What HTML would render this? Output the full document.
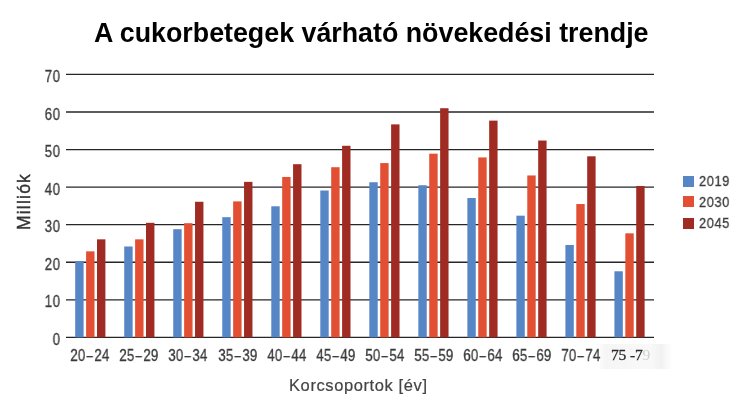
<!DOCTYPE html>
<html><head><meta charset="utf-8">
<style>
html,body{margin:0;padding:0;background:#fff;}
body{width:743px;height:406px;position:relative;overflow:hidden;font-family:"Liberation Sans",sans-serif;}
.title,.yt,.xt,.lt,.xl,.yl{will-change:transform;}
.yt,.xt,.lt{-webkit-text-stroke:0.3px #3a3a3a;}
.xl{-webkit-text-stroke:0.2px #444;}
.yl{-webkit-text-stroke:0.35px #333;}
.title{position:absolute;left:93.8px;top:16.6px;font-weight:bold;font-size:26.8px;color:#000;white-space:nowrap;line-height:32px;}
svg{position:absolute;left:0;top:0;}
.yt{position:absolute;left:29.5px;width:30.5px;text-align:right;font-size:16.2px;line-height:16px;color:#3a3a3a;letter-spacing:0.6px;transform:scaleX(0.82);transform-origin:100% 0;}
.xt{position:absolute;top:347px;width:60px;text-align:center;font-size:16.2px;line-height:16px;color:#3a3a3a;white-space:nowrap;letter-spacing:0.45px;transform:scaleX(0.82);}
.wm{position:absolute;left:600px;top:344px;width:72px;height:25px;background:linear-gradient(90deg,rgba(240,240,240,0.3),rgba(243,243,243,0.8) 8%,rgba(246,246,246,0.7) 70%,rgba(240,240,240,0.9) 85%,rgba(255,255,255,0));}
.x79{position:absolute;left:610.5px;top:345.5px;font-family:"Liberation Serif",serif;font-size:15.6px;line-height:18px;color:#2a2a2a;white-space:nowrap;will-change:transform;-webkit-text-stroke:0.3px #2a2a2a;letter-spacing:-0.2px;}
.dsh{display:inline-block;transform:scaleX(0.85);margin:0 0.3px 0 0.6px;}
.lsq{position:absolute;left:683px;width:11px;height:11px;}
.lt{position:absolute;left:698.6px;font-size:14.8px;line-height:16px;color:#3a3a3a;letter-spacing:0.8px;transform:scaleX(0.86);transform-origin:0 0;}
.xl{position:absolute;left:289px;top:375.5px;font-size:16.5px;line-height:18px;color:#444;white-space:nowrap;letter-spacing:0.6px;}
.yl{position:absolute;left:0px;top:0px;font-size:17.5px;line-height:18px;color:#333;white-space:nowrap;transform-origin:0 0;}
</style></head><body>
<div class="title">A cukorbetegek várható növekedési trendje</div>
<svg width="743" height="406" viewBox="0 0 743 406">
<line x1="66" x2="654" y1="337.40" y2="337.40" stroke="#262626" stroke-width="1.3"/>
<line x1="66" x2="654" y1="299.83" y2="299.83" stroke="#262626" stroke-width="1.3"/>
<line x1="66" x2="654" y1="262.26" y2="262.26" stroke="#262626" stroke-width="1.3"/>
<line x1="66" x2="654" y1="224.69" y2="224.69" stroke="#262626" stroke-width="1.3"/>
<line x1="66" x2="654" y1="187.12" y2="187.12" stroke="#262626" stroke-width="1.3"/>
<line x1="66" x2="654" y1="149.55" y2="149.55" stroke="#262626" stroke-width="1.3"/>
<line x1="66" x2="654" y1="111.98" y2="111.98" stroke="#262626" stroke-width="1.3"/>
<line x1="66" x2="654" y1="74.41" y2="74.41" stroke="#262626" stroke-width="1.3"/>
<rect x="75.20" y="261.13" width="8.4" height="76.27" fill="#5786c6"/>
<rect x="86.10" y="251.36" width="8.4" height="86.04" fill="#e24f32"/>
<rect x="97.00" y="239.34" width="8.4" height="98.06" fill="#a02b22"/>
<rect x="124.22" y="246.48" width="8.4" height="90.92" fill="#5786c6"/>
<rect x="135.12" y="239.34" width="8.4" height="98.06" fill="#e24f32"/>
<rect x="146.02" y="222.81" width="8.4" height="114.59" fill="#a02b22"/>
<rect x="173.24" y="229.20" width="8.4" height="108.20" fill="#5786c6"/>
<rect x="184.14" y="223.19" width="8.4" height="114.21" fill="#e24f32"/>
<rect x="195.04" y="201.77" width="8.4" height="135.63" fill="#a02b22"/>
<rect x="222.26" y="217.18" width="8.4" height="120.22" fill="#5786c6"/>
<rect x="233.16" y="201.40" width="8.4" height="136.00" fill="#e24f32"/>
<rect x="244.06" y="181.86" width="8.4" height="155.54" fill="#a02b22"/>
<rect x="271.28" y="206.28" width="8.4" height="131.12" fill="#5786c6"/>
<rect x="282.18" y="176.98" width="8.4" height="160.42" fill="#e24f32"/>
<rect x="293.08" y="164.20" width="8.4" height="173.20" fill="#a02b22"/>
<rect x="320.30" y="190.50" width="8.4" height="146.90" fill="#5786c6"/>
<rect x="331.20" y="167.21" width="8.4" height="170.19" fill="#e24f32"/>
<rect x="342.10" y="145.79" width="8.4" height="191.61" fill="#a02b22"/>
<rect x="369.32" y="182.24" width="8.4" height="155.16" fill="#5786c6"/>
<rect x="380.22" y="163.08" width="8.4" height="174.32" fill="#e24f32"/>
<rect x="391.12" y="124.38" width="8.4" height="213.02" fill="#a02b22"/>
<rect x="418.34" y="185.24" width="8.4" height="152.16" fill="#5786c6"/>
<rect x="429.24" y="153.68" width="8.4" height="183.72" fill="#e24f32"/>
<rect x="440.14" y="108.22" width="8.4" height="229.18" fill="#a02b22"/>
<rect x="467.36" y="198.02" width="8.4" height="139.38" fill="#5786c6"/>
<rect x="478.26" y="157.44" width="8.4" height="179.96" fill="#e24f32"/>
<rect x="489.16" y="120.62" width="8.4" height="216.78" fill="#a02b22"/>
<rect x="516.38" y="215.67" width="8.4" height="121.73" fill="#5786c6"/>
<rect x="527.28" y="175.47" width="8.4" height="161.93" fill="#e24f32"/>
<rect x="538.18" y="140.53" width="8.4" height="196.87" fill="#a02b22"/>
<rect x="565.40" y="244.98" width="8.4" height="92.42" fill="#5786c6"/>
<rect x="576.30" y="204.03" width="8.4" height="133.37" fill="#e24f32"/>
<rect x="587.20" y="156.31" width="8.4" height="181.09" fill="#a02b22"/>
<rect x="614.42" y="271.28" width="8.4" height="66.12" fill="#5786c6"/>
<rect x="625.32" y="233.33" width="8.4" height="104.07" fill="#e24f32"/>
<rect x="636.22" y="185.99" width="8.4" height="151.41" fill="#a02b22"/>
</svg>
<div class="wm"></div>
<div class="yt" style="top:330.9px">0</div>
<div class="yt" style="top:293.3px">10</div>
<div class="yt" style="top:255.8px">20</div>
<div class="yt" style="top:218.2px">30</div>
<div class="yt" style="top:180.6px">40</div>
<div class="yt" style="top:143.0px">50</div>
<div class="yt" style="top:105.5px">60</div>
<div class="yt" style="top:67.9px">70</div>
<div class="xt" style="left:60.25px">20<span class="dsh">–</span>24</div>
<div class="xt" style="left:109.36px">25<span class="dsh">–</span>29</div>
<div class="xt" style="left:158.47px">30<span class="dsh">–</span>34</div>
<div class="xt" style="left:207.58px">35<span class="dsh">–</span>39</div>
<div class="xt" style="left:256.69px">40<span class="dsh">–</span>44</div>
<div class="xt" style="left:305.80px">45<span class="dsh">–</span>49</div>
<div class="xt" style="left:354.91px">50<span class="dsh">–</span>54</div>
<div class="xt" style="left:404.02px">55<span class="dsh">–</span>59</div>
<div class="xt" style="left:453.13px">60<span class="dsh">–</span>64</div>
<div class="xt" style="left:502.24px">65<span class="dsh">–</span>69</div>
<div class="xt" style="left:551.35px">70<span class="dsh">–</span>74</div>
<div class="x79">75 -7<span style="color:#d0d0d0;-webkit-text-stroke:0">9</span></div>
<div class="lsq" style="top:176px;background:#5786c6"></div><div class="lt" style="top:173.2px">2019</div>
<div class="lsq" style="top:196.3px;background:#e24f32"></div><div class="lt" style="top:193.5px">2030</div>
<div class="lsq" style="top:218px;background:#a02b22"></div><div class="lt" style="top:215.2px">2045</div>

<div class="xl">Korcsoportok [év]</div>
<div class="yl" style="transform:translate(15px,230px) rotate(-90deg);letter-spacing:1.2px">Milliók</div>
</body></html>
